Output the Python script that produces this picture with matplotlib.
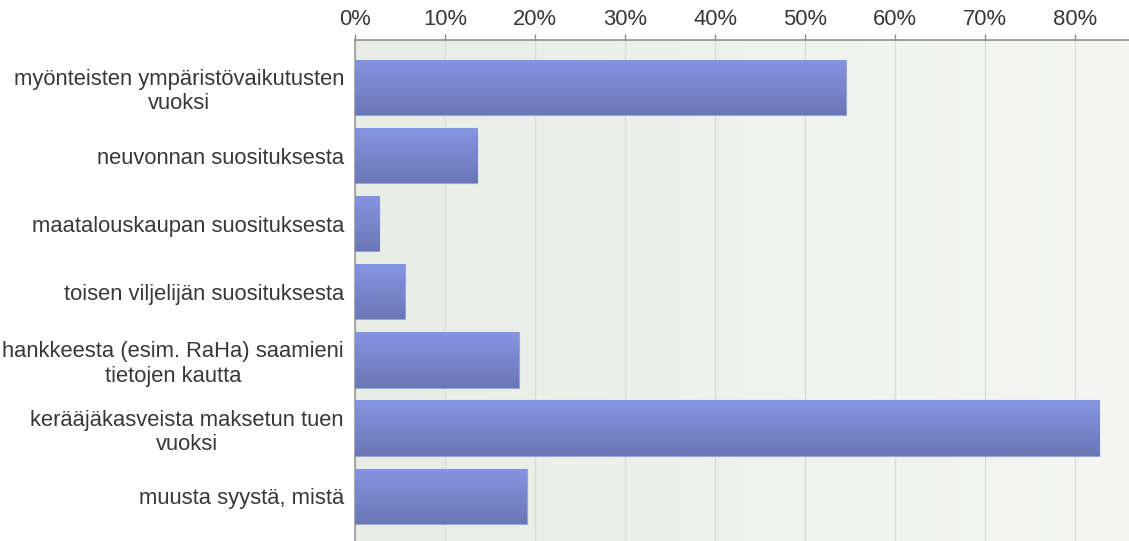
import numpy as np
import matplotlib
matplotlib.use("Agg")
import matplotlib.pyplot as plt
from matplotlib.colors import LinearSegmentedColormap

plt.rcParams['font.family'] = ['Liberation Sans', 'DejaVu Sans']

categories = [
    "myönteisten ympäristövaikutusten\nvuoksi",
    "neuvonnan suosituksesta",
    "maatalouskaupan suosituksesta",
    "toisen viljelijän suosituksesta",
    "hankkeesta (esim. RaHa) saamieni\ntietojen kautta",
    "kerääjäkasveista maksetun tuen\nvuoksi",
    "muusta syystä, mistä",
]
values = [54.5, 13.6, 2.7, 5.5, 18.2, 82.7, 19.1]
xticks = [0, 10, 20, 30, 40, 50, 60, 70, 80]
xticklabels = ["0%", "10%", "20%", "30%", "40%", "50%", "60%", "70%", "80%"]

fig = plt.figure(figsize=(11.29, 5.41), dpi=100)
ax = fig.add_axes([355/1129, 0.0, 1 - 355/1129, 1 - 40/541])

y = np.arange(len(categories))
ax.set_xlim(0, 86)
ax.set_ylim(6.66, -0.70)

# background gradient
bg = LinearSegmentedColormap.from_list("bg", ["#e9ede5", "#f5f6f3"])
ax.imshow(np.linspace(0, 1, 256).reshape(1, -1), cmap=bg, aspect='auto',
          extent=[0, 86, 6.66, -0.70], zorder=0, interpolation='bicubic')

ax.set_xticks(xticks)
ax.set_xticklabels(xticklabels)
ax.xaxis.tick_top()
ax.grid(axis='x', color='#d9dcd6', linewidth=1, zorder=1)
ax.set_axisbelow(True)

bars = ax.barh(y, values, height=0.81, color='#7a87cc', edgecolor='#9aa5e0',
               linewidth=0.8, zorder=2)
barcmap = LinearSegmentedColormap.from_list("bar", ["#8695e2", "#6a77b6"])
grad = np.linspace(0, 1, 256).reshape(-1, 1)
for b in bars:
    x0, y0 = b.get_x(), b.get_y()
    w, h = b.get_width(), b.get_height()
    im = ax.imshow(grad, cmap=barcmap, aspect='auto',
                   extent=[x0, x0 + w, y0 + h, y0], zorder=3, interpolation='bicubic')
    im.set_clip_path(b)

ax.set_xlim(0, 86)
ax.set_ylim(6.66, -0.70)

ax.set_yticks(y)
ax.set_yticklabels(categories)
for lbl in ax.get_yticklabels():
    lbl.set_multialignment('center')
ax.tick_params(axis='y', length=0, pad=8, labelsize=15.8, labelcolor='#383838')
ax.tick_params(axis='x', length=4, width=1, color='#888888', pad=3,
               labelsize=15.8, labelcolor='#383838')

for s in ['right', 'bottom']:
    ax.spines[s].set_visible(False)
ax.spines['top'].set_color('#8f8f8f')
ax.spines['left'].set_color('#9a9a9a')
ax.spines['top'].set_linewidth(1.2)
ax.spines['left'].set_linewidth(1.2)

fig.savefig("out.png", dpi=100, facecolor='white')
